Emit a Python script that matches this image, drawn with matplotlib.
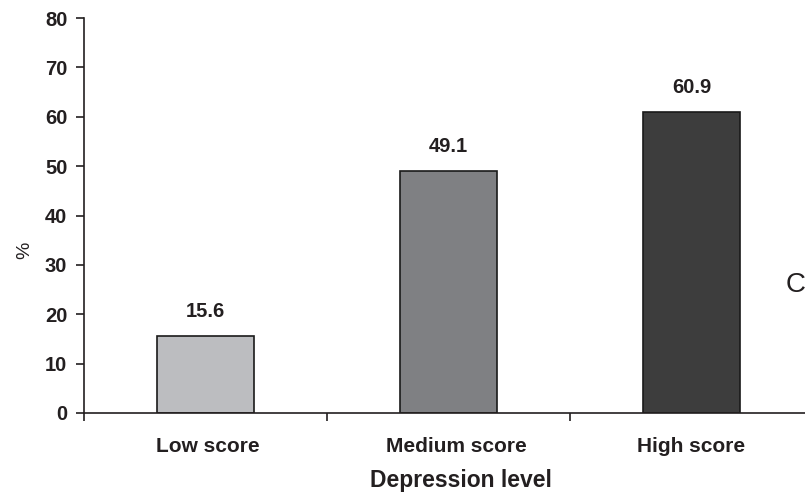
import matplotlib
matplotlib.use("Agg")
import matplotlib.pyplot as plt
from matplotlib.ticker import FixedLocator
from matplotlib.transforms import ScaledTranslation

plt.rcParams['font.family'] = ['Liberation Sans', 'DejaVu Sans']

categories = ["Low score", "Medium score", "High score"]
values = [15.6, 49.1, 60.9]
bar_colors = ["#bcbdc0", "#7f8083", "#3d3d3d"]
y_ticks = [0, 10, 20, 30, 40, 50, 60, 70, 80]

fig = plt.figure(figsize=(8.05, 4.95), dpi=100)
ax = fig.add_axes([84 / 805, 1 - 413 / 495, (813 - 84) / 805, (413 - 18) / 495])

x = list(range(len(categories)))
ax.bar(x, values, width=0.4, color=bar_colors, edgecolor="#1a1a1a", linewidth=1.2, zorder=2)

for xi, v in zip(x, values):
    ax.text(xi, v + 3.0, f"{v:.1f}", ha="center", va="bottom",
            fontsize=14.5, fontweight="bold", color="#231f20")

ax.set_xlim(-0.5, 2.5)
ax.set_ylim(0, 80)
ax.set_yticks(y_ticks)
ax.set_yticklabels([str(t) for t in y_ticks], fontsize=14.5, fontweight="bold", color="#231f20")

ax.set_xticks(x)
ax.set_xticklabels(categories, fontsize=15, fontweight="bold", color="#231f20")
ax.xaxis.set_minor_locator(FixedLocator([-0.5, 0.5, 1.5, 2.5]))
ax.tick_params(axis="x", which="major", length=0, pad=17)
ax.tick_params(axis="x", which="minor", length=6, width=1.2, color="#231f20", direction="out")
ax.tick_params(axis="y", which="major", length=6, width=1.2, color="#231f20", pad=6)

# small horizontal nudges of the category labels
label_shift_px = [2, 8, 0]
for lbl, dx in zip(ax.get_xticklabels(), label_shift_px):
    lbl.set_transform(lbl.get_transform() + ScaledTranslation(dx / 100, 0, fig.dpi_scale_trans))

for side in ("top", "right"):
    ax.spines[side].set_visible(False)
for side in ("left", "bottom"):
    ax.spines[side].set_color("#231f20")
    ax.spines[side].set_linewidth(1.2)

ax.set_xlabel("Depression level", fontsize=16.5, fontweight="bold", color="#231f20")
ax.xaxis.set_label_coords((461 - 84) / 729, -(481 - 413) / 395)
ax.xaxis.label.set_va("center")

fig.text(25 / 805, 1 - 250 / 495, "%", fontsize=14, color="#231f20",
         rotation=90, ha="center", va="center")

fig.text(786 / 805, 1 - 285 / 495, "C", fontsize=20, color="#231f20", ha="left", va="center")

fig.savefig("out.png", dpi=100)
